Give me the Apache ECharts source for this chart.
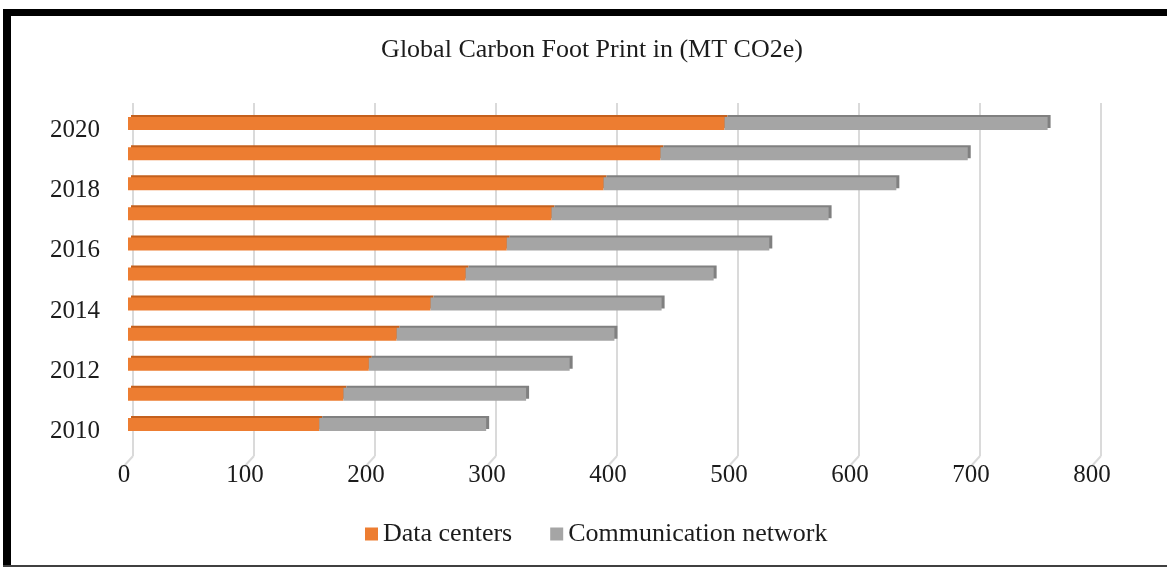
<!DOCTYPE html>
<html>
<head>
<meta charset="utf-8">
<script src="https://cdn.jsdelivr.net/npm/echarts@6/dist/echarts.min.js"></script>
<style>
  html, body { margin: 0; padding: 0; background: #ffffff; }
  #chart { width: 1167px; height: 567px; }
</style>
</head>
<body>
<div id="chart"></div>
<script>
// Yearly footprint, MT CO2e
const years = ['2010', '2011', '2012', '2013', '2014', '2015', '2016', '2017', '2018', '2019', '2020'];
const dataCenters = [158, 178, 199, 222, 250, 279, 313, 350, 393, 440, 493];
const communicationNetwork = [138, 151, 166, 180, 191, 205, 217, 229, 242, 254, 267];
const valueTicks = [0, 100, 200, 300, 400, 500, 600, 700, 800];

const serif = 'Liberation Serif, Times New Roman, serif';
const textColor = '#1c1c1c';

// back wall (gridlines) and bar plane are offset slightly to give a 3D look
const back = { left: 133, top: 103, width: 968, height: 353 };
const front = { left: 128, top: 108.5, width: 968, height: 331 };
const depth = { dx: -10, dy: 11 };

const chart = echarts.init(document.getElementById('chart'), null, { renderer: 'canvas' });

function faceStyle(color, edge) {
  return {
    color: color,
    shadowColor: edge,
    shadowBlur: 0,
    shadowOffsetX: 3,
    shadowOffsetY: -2
  };
}

const option = {
  animation: false,
  backgroundColor: '#ffffff',
  title: {
    text: 'Global Carbon Foot Print in (MT CO2e)',
    left: 592,
    top: 37,
    padding: 0,
    textAlign: 'center',
    textStyle: { fontFamily: serif, fontSize: 26, fontWeight: 'normal', color: textColor }
  },
  legend: {
    left: 365,
    top: 521,
    padding: 0,
    itemWidth: 13,
    itemHeight: 13,
    itemGap: 38,
    icon: 'rect',
    itemStyle: { shadowBlur: 0, shadowOffsetX: 0, shadowOffsetY: 0, shadowColor: 'rgba(0,0,0,0)' },
    textStyle: { fontFamily: serif, fontSize: 26, color: textColor },
    data: ['Data centers', 'Communication network']
  },
  grid: [
    { left: back.left, top: back.top, width: back.width, height: back.height, containLabel: false },
    { left: front.left, top: front.top, width: front.width, height: front.height, containLabel: false }
  ],
  xAxis: [
    {
      gridIndex: 0, type: 'value', min: 0, max: 800, interval: 100,
      axisLine: { show: false }, axisTick: { show: false }, axisLabel: { show: false },
      splitLine: { show: true, lineStyle: { color: '#dadada', width: 2 } }
    },
    {
      gridIndex: 1, type: 'value', min: 0, max: 800, interval: 100,
      axisLine: { show: false }, axisTick: { show: false },
      splitLine: { show: false },
      axisLabel: {
        margin: 23,
        padding: [0, 8, 0, 0],
        fontFamily: serif, fontSize: 25, color: textColor,
        formatter: function (v) { return valueTicks.indexOf(v) >= 0 ? String(v) : ''; }
      }
    }
  ],
  yAxis: [
    { gridIndex: 0, type: 'value', show: false, min: 0, max: 1 },
    {
      gridIndex: 1, type: 'category', data: years,
      axisLine: { show: false }, axisTick: { show: false },
      splitLine: { show: false },
      axisLabel: {
        interval: 1,
        margin: 28,
        verticalAlign: 'top',
        lineHeight: 14,
        fontFamily: serif, fontSize: 25, color: textColor
      }
    }
  ],
  series: [
    {
      name: 'Data centers', type: 'bar', stack: 'total',
      xAxisIndex: 1, yAxisIndex: 1, barWidth: 13,
      itemStyle: faceStyle('#ed7d31', '#c4601d'),
      emphasis: { disabled: true },
      data: dataCenters
    },
    {
      name: 'Communication network', type: 'bar', stack: 'total',
      xAxisIndex: 1, yAxisIndex: 1, barWidth: 13,
      itemStyle: faceStyle('#a5a5a5', '#808080'),
      emphasis: { disabled: true },
      data: communicationNetwork
    }
  ]
};

chart.setOption(option);

// floor edges running from the back wall towards the viewer, plus the frame
const floorY = back.top + back.height;
const extras = valueTicks.map(function (v) {
  const x = chart.convertToPixel({ xAxisIndex: 0 }, v);
  return {
    type: 'line', silent: true,
    shape: { x1: x, y1: floorY, x2: x + depth.dx, y2: floorY + depth.dy },
    style: { stroke: '#dadada', lineWidth: 2 }
  };
});
extras.push(
  { type: 'rect', silent: true, shape: { x: 3, y: 9, width: 1164, height: 7 }, style: { fill: '#000000' } },
  { type: 'rect', silent: true, shape: { x: 3, y: 9, width: 8, height: 558 }, style: { fill: '#000000' } },
  { type: 'rect', silent: true, shape: { x: 3, y: 565, width: 1164, height: 2 }, style: { fill: '#404040' } }
);
chart.setOption({ graphic: extras });
</script>
</body>
</html>
